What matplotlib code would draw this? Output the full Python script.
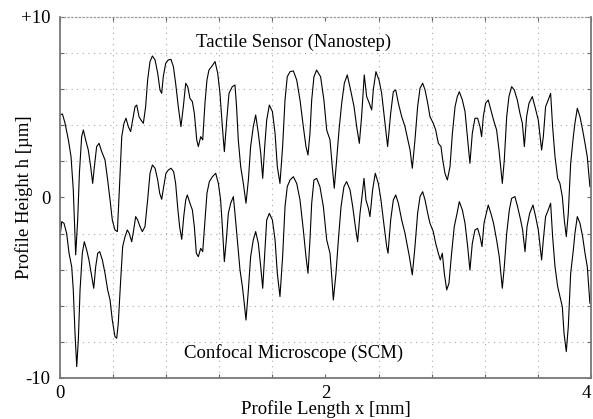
import numpy as np
import matplotlib
matplotlib.use('Agg')
import matplotlib.pyplot as plt

plt.rcParams['font.family'] = ['Liberation Serif', 'DejaVu Serif']

# tactile sensor profile (Nanostep), x in mm, h in um
x_tac = [0.000, 0.018, 0.038, 0.063, 0.083, 0.100, 0.118, 0.133, 0.146, 0.163,
         0.176, 0.193, 0.213, 0.231, 0.246, 0.259, 0.276, 0.294, 0.314, 0.339,
         0.359, 0.377, 0.394, 0.414, 0.432, 0.447, 0.465, 0.482, 0.497, 0.515,
         0.532, 0.547, 0.565, 0.578, 0.595, 0.610, 0.628, 0.645, 0.660, 0.678,
         0.696, 0.716, 0.736, 0.753, 0.766, 0.778, 0.796, 0.816, 0.836, 0.854,
         0.871, 0.891, 0.911, 0.929, 0.947, 0.962, 0.979, 0.997, 1.012, 1.030,
         1.042, 1.060, 1.075, 1.092, 1.107, 1.122, 1.142, 1.168, 1.188, 1.205,
         1.223, 1.238, 1.256, 1.273, 1.298, 1.318, 1.330, 1.343, 1.361, 1.381,
         1.401, 1.419, 1.436, 1.456, 1.474, 1.494, 1.512, 1.527, 1.542, 1.557,
         1.577, 1.600, 1.620, 1.637, 1.657, 1.677, 1.695, 1.712, 1.733, 1.758,
         1.783, 1.808, 1.833, 1.853, 1.868, 1.883, 1.896, 1.913, 1.933, 1.963,
         1.988, 2.009, 2.034, 2.051, 2.066, 2.084, 2.102, 2.122, 2.142, 2.164,
         2.189, 2.215, 2.235, 2.255, 2.272, 2.292, 2.310, 2.330, 2.348, 2.360,
         2.380, 2.403, 2.423, 2.443, 2.468, 2.491, 2.511, 2.529, 2.549, 2.574,
         2.599, 2.637, 2.654, 2.674, 2.694, 2.712, 2.732, 2.750, 2.770, 2.787,
         2.812, 2.830, 2.850, 2.870, 2.883, 2.900, 2.918, 2.938, 2.956, 2.976,
         2.993, 3.008, 3.031, 3.051, 3.071, 3.088, 3.106, 3.126, 3.146, 3.164,
         3.176, 3.189, 3.206, 3.226, 3.246, 3.266, 3.289, 3.307, 3.332, 3.347,
         3.365, 3.382, 3.402, 3.422, 3.445, 3.465, 3.483, 3.498, 3.515, 3.533,
         3.558, 3.578, 3.603, 3.628, 3.641, 3.658, 3.678, 3.696, 3.711, 3.729,
         3.749, 3.766, 3.784, 3.799, 3.814, 3.829, 3.847, 3.867, 3.879, 3.897,
         3.917, 3.937, 3.955, 3.972, 3.992]
h_tac = [4.57, 4.63, 4.11, 3.19, 2.26, 0.42, -3.18, -1.25, 1.34, 3.37,
         3.74, 3.19, 2.63, 1.71, 0.78, 1.71, 2.82, 3.00, 2.54, 2.08,
         0.97, -0.14, -1.25, -1.80, -1.89, 0.42, 3.37, 4.11, 4.39, 3.92,
         3.65, 4.29, 5.03, 5.12, 4.48, 4.29, 4.11, 5.03, 6.51, 7.53,
         7.84, 7.62, 6.88, 5.96, 5.77, 6.69, 7.43, 7.62, 7.65, 7.25,
         6.33, 5.03, 3.92, 5.03, 6.33, 6.14, 5.49, 5.31, 4.66, 3.19,
         2.82, 3.37, 3.19, 5.22, 6.51, 7.06, 7.25, 7.53, 6.88, 5.77,
         3.92, 2.54, 4.29, 5.77, 6.14, 6.23, 5.03, 3.19, 1.71, 0.78,
         -0.32, 0.97, 2.82, 3.92, 4.57, 3.56, 2.45, 1.06, 2.82, 4.29,
         5.12, 4.76, 3.56, 1.71, 0.78, 2.82, 5.40, 6.69, 6.97, 7.01,
         6.51, 5.40, 3.92, 2.82, 2.35, 3.56, 5.40, 6.69, 7.06, 6.69,
         5.40, 3.74, 3.19, 1.71, 0.51, 2.08, 3.74, 5.22, 6.33, 6.79,
         5.96, 5.03, 3.92, 3.00, 4.48, 6.79, 5.59, 5.22, 4.85, 5.96,
         6.97, 6.51, 5.77, 4.48, 2.82, 4.66, 5.86, 5.96, 5.22, 4.48,
         3.92, 2.63, 1.62, 3.19, 5.03, 6.05, 6.33, 5.96, 5.22, 4.48,
         4.11, 3.74, 3.00, 2.82, 2.08, 1.34, 0.97, 1.71, 3.56, 5.03,
         5.59, 5.86, 5.40, 4.76, 3.19, 1.89, 3.56, 4.39, 4.39, 3.92,
         3.37, 4.48, 5.22, 5.40, 4.85, 4.29, 3.74, 2.63, 0.78, 2.08,
         4.48, 5.59, 6.14, 5.96, 5.40, 4.66, 4.11, 2.82, 4.48, 5.22,
         5.59, 5.03, 4.29, 2.63, 3.37, 5.03, 5.40, 5.77, 3.92, 2.26,
         1.06, 0.78, 0.05, -1.25, -2.17, -0.88, 1.89, 3.37, 4.11, 4.94,
         4.48, 3.74, 3.00, 2.26, 0.60]

# confocal microscope profile (SCM)
x_scm = [0.000, 0.013, 0.030, 0.050, 0.068, 0.088, 0.100, 0.113, 0.126, 0.138,
         0.151, 0.168, 0.183, 0.201, 0.218, 0.239, 0.254, 0.269, 0.284, 0.299,
         0.319, 0.339, 0.359, 0.377, 0.394, 0.414, 0.427, 0.439, 0.457, 0.472,
         0.490, 0.507, 0.522, 0.540, 0.555, 0.570, 0.585, 0.603, 0.620, 0.640,
         0.660, 0.678, 0.696, 0.716, 0.736, 0.751, 0.766, 0.781, 0.798, 0.816,
         0.836, 0.856, 0.871, 0.886, 0.901, 0.917, 0.932, 0.947, 0.959, 0.979,
         0.997, 1.012, 1.027, 1.042, 1.060, 1.075, 1.092, 1.107, 1.125, 1.148,
         1.173, 1.193, 1.210, 1.223, 1.238, 1.253, 1.268, 1.286, 1.306, 1.318,
         1.336, 1.356, 1.374, 1.388, 1.401, 1.419, 1.436, 1.456, 1.474, 1.494,
         1.512, 1.527, 1.542, 1.557, 1.577, 1.600, 1.620, 1.637, 1.657, 1.677,
         1.695, 1.712, 1.733, 1.758, 1.783, 1.808, 1.833, 1.853, 1.868, 1.883,
         1.896, 1.913, 1.933, 1.958, 1.984, 2.009, 2.034, 2.049, 2.059, 2.079,
         2.097, 2.117, 2.139, 2.159, 2.185, 2.205, 2.225, 2.242, 2.260, 2.275,
         2.290, 2.305, 2.323, 2.335, 2.355, 2.375, 2.398, 2.418, 2.436, 2.461,
         2.471, 2.491, 2.511, 2.529, 2.549, 2.574, 2.599, 2.632, 2.654, 2.674,
         2.694, 2.712, 2.732, 2.750, 2.770, 2.787, 2.812, 2.830, 2.850, 2.865,
         2.880, 2.895, 2.913, 2.930, 2.950, 2.970, 2.991, 3.008, 3.031, 3.051,
         3.071, 3.088, 3.106, 3.126, 3.146, 3.164, 3.179, 3.194, 3.211, 3.226,
         3.246, 3.266, 3.289, 3.309, 3.332, 3.347, 3.365, 3.385, 3.402, 3.427,
         3.447, 3.470, 3.485, 3.503, 3.518, 3.538, 3.563, 3.583, 3.603, 3.628,
         3.641, 3.658, 3.678, 3.696, 3.711, 3.729, 3.749, 3.766, 3.784, 3.797,
         3.814, 3.829, 3.847, 3.867, 3.879, 3.897, 3.917, 3.937, 3.955, 3.972,
         3.992]
h_scm = [-2.17, -1.34, -1.43, -1.99, -3.09, -3.83, -5.12, -7.53, -9.37, -7.89,
         -5.12, -3.09, -2.45, -2.91, -3.46, -4.39, -5.03, -3.83, -3.09, -3.00,
         -3.46, -4.20, -5.12, -5.68, -6.79, -7.71, -7.80, -6.97, -4.57, -2.72,
         -2.17, -1.80, -1.99, -2.45, -1.80, -1.06, -1.25, -1.62, -1.89, -1.62,
         -0.14, 1.34, 1.80, 1.62, 0.97, 0.23, -0.10, 0.60, 1.34, 1.52,
         1.62, 1.43, 0.78, -0.51, -1.62, -2.32, -1.06, -0.14, 0.14, -0.32,
         -0.69, -1.62, -3.09, -3.28, -2.82, -3.00, -1.25, 0.23, 0.88, 1.15,
         1.34, 0.78, -0.14, -1.62, -3.55, -2.35, -0.88, -0.32, 0.05, -0.88,
         -2.35, -4.02, -4.94, -5.86, -6.79, -5.12, -3.28, -2.35, -1.89, -2.54,
         -3.83, -5.03, -3.09, -1.25, -0.88, -1.25, -2.35, -4.20, -5.49, -3.28,
         -0.51, 0.60, 0.97, 1.15, 0.78, -0.14, -1.80, -3.28, -4.20, -2.35,
         -0.32, 0.97, 1.06, 0.60, -0.51, -2.35, -3.09, -4.57, -5.68, -4.20,
         -2.35, -0.51, 0.60, 0.88, 0.42, -0.51, -1.62, -2.45, -0.88, 0.05,
         1.06, -0.14, -0.60, -1.06, 0.42, 1.34, 0.78, -0.14, -1.25, -2.72,
         -3.09, -1.25, -0.14, 0.14, -0.32, -1.25, -1.99, -3.28, -4.29, -2.72,
         -0.88, 0.05, 0.32, -0.14, -0.88, -1.43, -1.89, -2.54, -3.09, -3.46,
         -3.09, -4.20, -5.12, -4.76, -3.09, -1.62, -0.88, -0.23, -0.69, -1.43,
         -2.72, -4.02, -2.54, -1.80, -1.71, -2.17, -2.72, -1.43, -0.88, -0.42,
         -0.88, -1.43, -2.35, -3.28, -5.03, -3.83, -1.99, -0.69, -0.05, 0.05,
         -0.51, -1.25, -1.80, -3.00, -1.62, -0.88, -0.42, -1.06, -1.80, -3.46,
         -2.35, -1.06, -0.69, -0.32, -2.17, -3.83, -4.94, -5.49, -6.05, -7.53,
         -8.54, -7.16, -4.20, -2.91, -1.99, -1.06, -1.43, -2.17, -3.09, -3.83,
         -5.86]

fig = plt.figure(figsize=(5.93, 4.19), dpi=100)
ax = fig.add_axes([0.1012, 0.0979, 0.8954, 0.8616])

ax.plot(x_tac, h_tac, color='black', lw=0.8)
ax.plot(x_scm, h_scm, color='black', lw=0.8)

fs = 13.5
ax.set_xlim(0, 4)
ax.set_ylim(-10, 10)
ax.set_xticks([0, 2, 4])
ax.set_xticklabels(['0', '2', '4'])
ax.get_xticklabels()[-1].set_ha('right')
ax.set_yticks([-10, 0, 10])
ax.set_yticklabels(['-10', '0', '+10'])
ax.set_xticks(np.arange(0, 4.01, 0.4), minor=True)
ax.set_yticks(np.arange(-10, 10.01, 2), minor=True)
ax.grid(True, which='minor', color='#aaaaaa', linestyle=(0, (1, 4)), lw=0.8)
ax.tick_params(which='both', direction='in', top=True, right=True,
               length=3, width=0.8, color='#666666', labelsize=fs)
ax.tick_params(axis='x', pad=5)
ax.tick_params(axis='y', pad=7)

for side in ['left', 'right', 'bottom']:
    ax.spines[side].set_color('#777777')
    ax.spines[side].set_linewidth(1.3)
ax.spines['top'].set_color('#999999')
ax.spines['top'].set_linestyle((0, (1, 2)))
ax.spines['top'].set_linewidth(0.9)

ax.set_xlabel('Profile Length x [mm]', fontsize=fs, labelpad=-1)
ax.set_ylabel('Profile Height h [\u00b5m]', fontsize=fs)
ax.yaxis.set_label_coords(-0.051, 0.5)

ax.text(1.76, 8.6, 'Tactile Sensor (Nanostep)', fontsize=fs,
        ha='center', va='center')
ax.text(1.76, -8.6, 'Confocal Microscope (SCM)', fontsize=fs,
        ha='center', va='center')

fig.savefig('out.png', dpi=100)
